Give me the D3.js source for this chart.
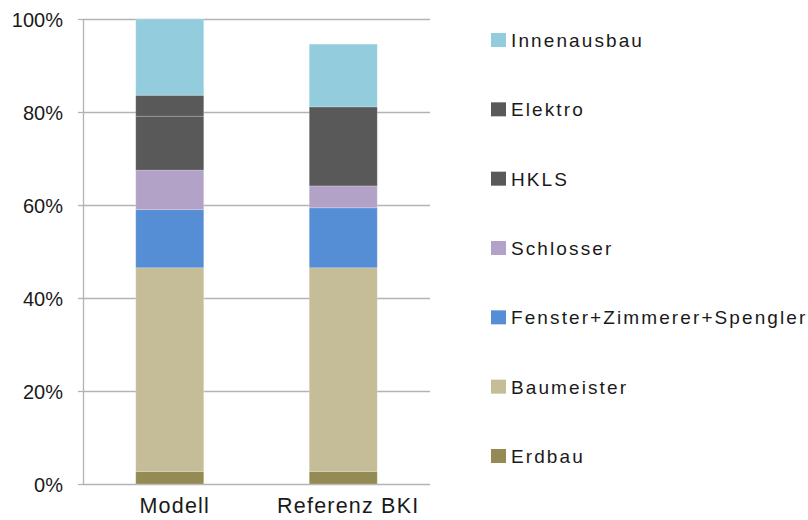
<!DOCTYPE html>
<html>
<head>
<meta charset="utf-8">
<script src="https://cdn.jsdelivr.net/npm/d3@7"></script>
<style>
  body { margin: 0; background: #fff; }
  svg { display: block; }
  text { font-family: "Liberation Sans", Arial, sans-serif; fill: #1a1a1a; }
</style>
</head>
<body>
<svg width="808" height="520"></svg>
<script>
// categories on the x axis
const categories = ["Modell", "Referenz BKI"];
// series, bottom of the stack first
const seriesNames = ["Erdbau", "Baumeister", "Fenster+Zimmerer+Spengler", "Schlosser", "HKLS", "Elektro", "Innenausbau"];
const seriesColors = ["#948a54", "#c4bd97", "#558ed5", "#b3a2c7", "#595959", "#595959", "#93cddd"];
// shares in percent, one value per category
const erdbau = [2.7, 2.7];
const baumeister = [43.8, 43.8];
const fenster = [12.5, 12.9];
const schlosser = [8.5, 4.7];
const hkls = [11.6, 17.0];
const elektro = [4.5, 0.0];
const innenausbau = [16.4, 13.5];
const tickValues = [0, 20, 40, 60, 80, 100];

const seriesValues = [erdbau, baumeister, fenster, schlosser, hkls, elektro, innenausbau];

// table for d3.stack
const rows = categories.map(function (c, i) {
  const r = { cat: c };
  seriesNames.forEach(function (s, k) { r[s] = seriesValues[k][i]; });
  return r;
});

const svg = d3.select("svg");
const plotLeft = 83, plotRight = 430, plotTop = 19, plotBottom = 484;

const xScale = d3.scaleBand().domain(categories).range([plotLeft, plotRight])
  .paddingInner(0.608).paddingOuter(0.304);
const yScale = d3.scaleLinear().domain([0, 100]).range([plotBottom, plotTop]);

// grid lines
svg.append("g")
  .attr("transform", "translate(" + plotLeft + ",0)")
  .call(d3.axisLeft(yScale).tickValues(tickValues).tickSize(-(plotRight - plotLeft)).tickFormat(""))
  .call(function (g) {
    g.select(".domain").remove();
    g.selectAll(".tick line").attr("stroke", "#b3b3b3").attr("stroke-width", 1.3);
  });

// y axis with tick marks and labels
svg.append("g")
  .attr("transform", "translate(" + plotLeft + ",0)")
  .call(d3.axisLeft(yScale).tickValues(tickValues).tickSize(5).tickSizeOuter(0).tickPadding(15)
    .tickFormat(function (d) { return d + "%"; }))
  .call(function (g) {
    g.select(".domain").attr("stroke", "#b3b3b3").attr("stroke-width", 1.3);
    g.selectAll(".tick line").attr("stroke", "#b3b3b3").attr("stroke-width", 1.3);
    g.selectAll(".tick text").attr("font-size", 20).attr("font-family", "Liberation Sans, Arial, sans-serif")
      .attr("fill", "#1a1a1a").attr("dy", "0.35em");
  });

const stacked = d3.stack().keys(seriesNames)(rows);

svg.append("g").selectAll("g")
  .data(stacked)
  .enter().append("g")
  .attr("fill", function (d, i) { return seriesColors[i]; })
  .selectAll("rect")
  .data(function (d) { return d.filter(function (p) { return p[1] - p[0] > 0; }); })
  .enter().append("rect")
  .attr("x", function (d) { return xScale(d.data.cat); })
  .attr("width", xScale.bandwidth())
  .attr("y", function (d) { return yScale(d[1]); })
  .attr("height", function (d) { return yScale(d[0]) - yScale(d[1]); })
  .attr("stroke", "#ffffff")
  .attr("stroke-opacity", 0.25)
  .attr("stroke-width", 0.8);

// category labels
svg.append("g").selectAll("text")
  .data(categories)
  .enter().append("text")
  .attr("x", function (d) { return xScale(d) + xScale.bandwidth() / 2; })
  .attr("dx", 5)
  .attr("y", 513)
  .attr("text-anchor", "middle")
  .attr("font-size", 21.5)
  .attr("letter-spacing", 1.2)
  .text(function (d) { return d; });

// legend, top entry is the top of the stack
const legendOrder = seriesNames.map(function (s, i) { return i; }).reverse();
const legendY = d3.scalePoint().domain(legendOrder).range([40, 456]);

const legend = svg.append("g").selectAll("g")
  .data(legendOrder)
  .enter().append("g")
  .attr("transform", function (d) { return "translate(491," + legendY(d) + ")"; });

legend.append("rect")
  .attr("x", 0).attr("y", -7)
  .attr("width", 15).attr("height", 14)
  .attr("fill", function (d) { return seriesColors[d]; });

legend.append("text")
  .attr("x", 20)
  .attr("y", 0)
  .attr("dy", "0.36em")
  .attr("font-size", 19)
  .attr("letter-spacing", 2.1)
  .text(function (d) { return seriesNames[d]; });
</script>
</body>
</html>
